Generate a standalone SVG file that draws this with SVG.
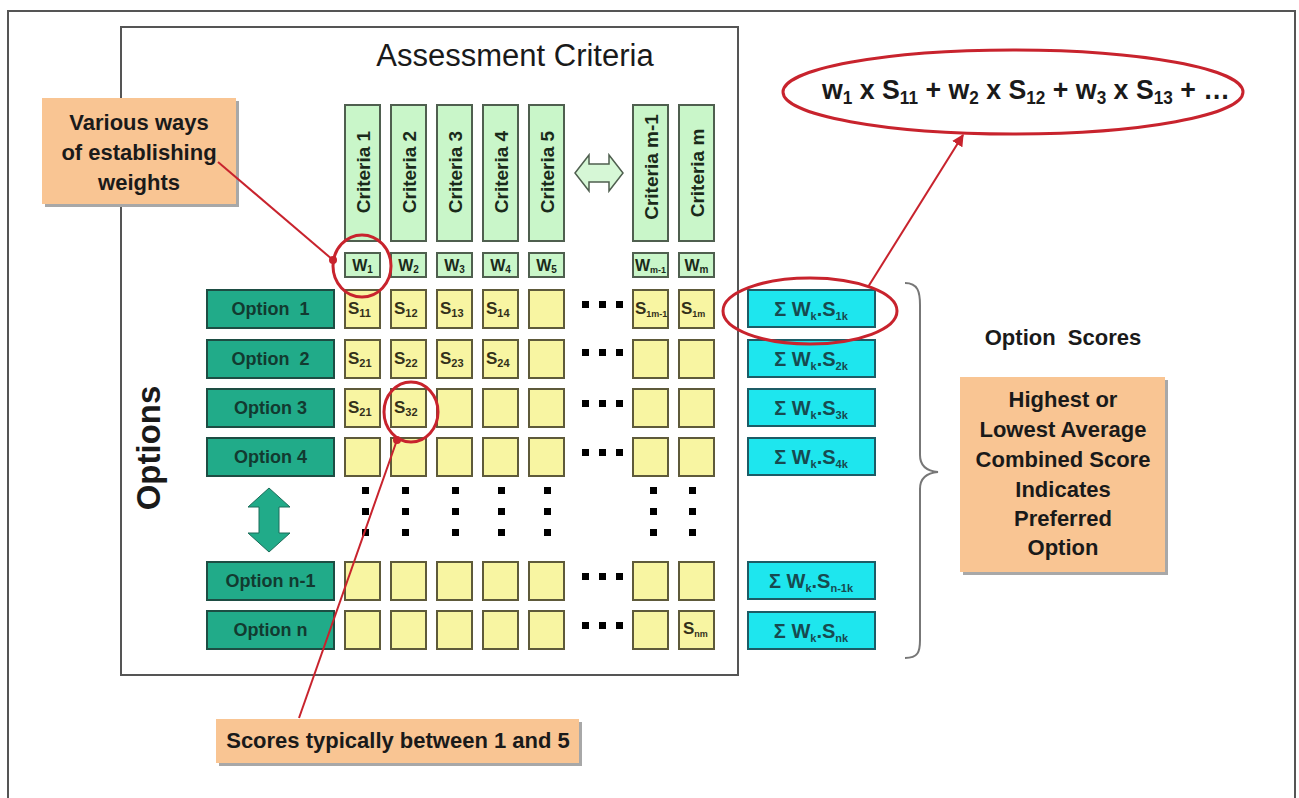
<svg xmlns="http://www.w3.org/2000/svg" width="1299" height="798" viewBox="0 0 1299 798">
<defs>
<style>
.frame{fill:none;stroke:#555;stroke-width:2}
.crit{fill:#c9f6c9;stroke:#4f5f4f;stroke-width:2}
.wt{fill:#c9f6c9;stroke:#4f5f4f;stroke-width:2}
.opt{fill:#21ab89;stroke:#1d4d43;stroke-width:2}
.cell{fill:#f8f5a2;stroke:#5e5a3a;stroke-width:2}
.sum{fill:#1ee6ee;stroke:#1c5c66;stroke-width:2}
.call{fill:#f9c593}
.shadow{fill:#a8a8a8}
.red{fill:none;stroke:#c8232d;stroke-width:3}
.redline{fill:none;stroke:#c8232d;stroke-width:2}
.dot{fill:#000}
.t{font-family:"Liberation Sans",Arial,sans-serif;font-weight:bold;fill:#1a1a1a}
.tc{font-family:"Liberation Sans",Arial,sans-serif;font-weight:bold;font-size:19px;fill:#1a2a1a;text-anchor:middle}
.tw{font-family:"Liberation Sans",Arial,sans-serif;font-weight:bold;font-size:16px;fill:#1a2a1a;text-anchor:middle}
.ts{font-family:"Liberation Sans",Arial,sans-serif;font-weight:bold;font-size:17px;fill:#33301a}
.to{font-family:"Liberation Sans",Arial,sans-serif;font-weight:bold;font-size:18px;fill:#123a30;text-anchor:middle}
.tsum{font-family:"Liberation Sans",Arial,sans-serif;font-weight:bold;font-size:20px;fill:#174a50;text-anchor:middle}
.tcall{font-family:"Liberation Sans",Arial,sans-serif;font-weight:bold;font-size:22px;fill:#1a1a1a;text-anchor:middle}
</style>
<marker id="endDot" viewBox="0 0 10 10" refX="5" refY="5" markerWidth="4" markerHeight="4" markerUnits="strokeWidth"><circle cx="5" cy="5" r="5" fill="#c8232d"/></marker>
<marker id="arrow" viewBox="0 0 10 10" refX="9" refY="5" markerWidth="6" markerHeight="6" markerUnits="strokeWidth" orient="auto"><path d="M0,0 L10,5 L0,10 Z" fill="#c8232d"/></marker>
</defs>

<rect class="frame" x="8" y="11" width="1287" height="800"/>
<rect id="main-frame" class="frame" x="121" y="27" width="617" height="648"/>

<text id="title" x="515" y="66" font-family="Liberation Sans, Arial, sans-serif" font-size="31" fill="#1a1a1a" text-anchor="middle">Assessment Criteria</text>

<text id="options-label" transform="translate(160,448) rotate(-90)" class="t" font-size="33" text-anchor="middle">Options</text>

<!-- criteria columns -->
<g id="criteria-1"><rect class="crit" x="345" y="105" width="35" height="136"/><text class="tc" transform="translate(362.5,172) rotate(-90)" y="7">Criteria 1</text></g>
<g id="criteria-2"><rect class="crit" x="391" y="105" width="35" height="136"/><text class="tc" transform="translate(408.5,172) rotate(-90)" y="7">Criteria 2</text></g>
<g id="criteria-3"><rect class="crit" x="437" y="105" width="35" height="136"/><text class="tc" transform="translate(454.5,172) rotate(-90)" y="7">Criteria 3</text></g>
<g id="criteria-4"><rect class="crit" x="483" y="105" width="35" height="136"/><text class="tc" transform="translate(500.5,172) rotate(-90)" y="7">Criteria 4</text></g>
<g id="criteria-5"><rect class="crit" x="529" y="105" width="35" height="136"/><text class="tc" transform="translate(546.5,172) rotate(-90)" y="7">Criteria 5</text></g>
<g id="criteria-m1"><rect class="crit" x="633" y="105" width="35" height="136"/><text class="tc" transform="translate(650.5,167) rotate(-90)" y="7">Criteria m-1</text></g>
<g id="criteria-m"><rect class="crit" x="679" y="105" width="35" height="136"/><text class="tc" transform="translate(696.5,173) rotate(-90)" y="7">Criteria m</text></g>

<g id="criteria-arrow"><path d="M575,173 L589,155 L589,164 L609,164 L609,155 L623,173 L609,191 L609,182 L589,182 L589,191 Z" fill="#d6f7d6" stroke="#4f5f4f" stroke-width="1.5"/></g>

<!-- weights -->
<g id="weights">
<rect class="wt" x="345" y="253" width="35" height="24"/><text class="tw" x="362.5" y="271">W<tspan font-size="10" dy="2">1</tspan></text>
<rect class="wt" x="391" y="253" width="35" height="24"/><text class="tw" x="408.5" y="271">W<tspan font-size="10" dy="2">2</tspan></text>
<rect class="wt" x="437" y="253" width="35" height="24"/><text class="tw" x="454.5" y="271">W<tspan font-size="10" dy="2">3</tspan></text>
<rect class="wt" x="483" y="253" width="35" height="24"/><text class="tw" x="500.5" y="271">W<tspan font-size="10" dy="2">4</tspan></text>
<rect class="wt" x="529" y="253" width="35" height="24"/><text class="tw" x="546.5" y="271">W<tspan font-size="10" dy="2">5</tspan></text>
<rect class="wt" x="633" y="253" width="35" height="24"/><text class="tw" x="650.5" y="271" font-size="15">W<tspan font-size="9" dy="2">m-1</tspan></text>
<rect class="wt" x="679" y="253" width="35" height="24"/><text class="tw" x="696.5" y="271">W<tspan font-size="10" dy="2">m</tspan></text>
</g>

<!-- options -->
<g id="option-1"><rect class="opt" x="207" y="290" width="127" height="38"/><text class="to" x="270.5" y="315" xml:space="preserve">Option  1</text></g>
<g id="option-2"><rect class="opt" x="207" y="340" width="127" height="38"/><text class="to" x="270.5" y="365" xml:space="preserve">Option  2</text></g>
<g id="option-3"><rect class="opt" x="207" y="389" width="127" height="38"/><text class="to" x="270.5" y="414">Option 3</text></g>
<g id="option-4"><rect class="opt" x="207" y="438" width="127" height="38"/><text class="to" x="270.5" y="463">Option 4</text></g>
<g id="option-n1"><rect class="opt" x="207" y="562" width="127" height="38"/><text class="to" x="270.5" y="587">Option n-1</text></g>
<g id="option-n"><rect class="opt" x="207" y="611" width="127" height="38"/><text class="to" x="270.5" y="636">Option n</text></g>

<g id="options-arrow"><path d="M269,488 L290,507 L279,507 L279,533 L290,533 L269,552 L248,533 L259,533 L259,507 L248,507 Z" fill="#21ab89" stroke="#1d6d5a" stroke-width="1"/></g>

<!-- score cells -->
<g id="scores">
<rect class="cell" x="345" y="290" width="35" height="38"/><rect class="cell" x="391" y="290" width="35" height="38"/><rect class="cell" x="437" y="290" width="35" height="38"/><rect class="cell" x="483" y="290" width="35" height="38"/><rect class="cell" x="529" y="290" width="35" height="38"/><rect class="cell" x="633" y="290" width="35" height="38"/><rect class="cell" x="679" y="290" width="35" height="38"/>
<rect class="cell" x="345" y="340" width="35" height="38"/><rect class="cell" x="391" y="340" width="35" height="38"/><rect class="cell" x="437" y="340" width="35" height="38"/><rect class="cell" x="483" y="340" width="35" height="38"/><rect class="cell" x="529" y="340" width="35" height="38"/><rect class="cell" x="633" y="340" width="35" height="38"/><rect class="cell" x="679" y="340" width="35" height="38"/>
<rect class="cell" x="345" y="389" width="35" height="38"/><rect class="cell" x="391" y="389" width="35" height="38"/><rect class="cell" x="437" y="389" width="35" height="38"/><rect class="cell" x="483" y="389" width="35" height="38"/><rect class="cell" x="529" y="389" width="35" height="38"/><rect class="cell" x="633" y="389" width="35" height="38"/><rect class="cell" x="679" y="389" width="35" height="38"/>
<rect class="cell" x="345" y="438" width="35" height="38"/><rect class="cell" x="391" y="438" width="35" height="38"/><rect class="cell" x="437" y="438" width="35" height="38"/><rect class="cell" x="483" y="438" width="35" height="38"/><rect class="cell" x="529" y="438" width="35" height="38"/><rect class="cell" x="633" y="438" width="35" height="38"/><rect class="cell" x="679" y="438" width="35" height="38"/>
<rect class="cell" x="345" y="562" width="35" height="38"/><rect class="cell" x="391" y="562" width="35" height="38"/><rect class="cell" x="437" y="562" width="35" height="38"/><rect class="cell" x="483" y="562" width="35" height="38"/><rect class="cell" x="529" y="562" width="35" height="38"/><rect class="cell" x="633" y="562" width="35" height="38"/><rect class="cell" x="679" y="562" width="35" height="38"/>
<rect class="cell" x="345" y="611" width="35" height="38"/><rect class="cell" x="391" y="611" width="35" height="38"/><rect class="cell" x="437" y="611" width="35" height="38"/><rect class="cell" x="483" y="611" width="35" height="38"/><rect class="cell" x="529" y="611" width="35" height="38"/><rect class="cell" x="633" y="611" width="35" height="38"/><rect class="cell" x="679" y="611" width="35" height="38"/>

<text class="ts" x="348" y="314">S<tspan font-size="11" dy="3">11</tspan></text>
<text class="ts" x="394" y="314">S<tspan font-size="11" dy="3">12</tspan></text>
<text class="ts" x="440" y="314">S<tspan font-size="11" dy="3">13</tspan></text>
<text class="ts" x="486" y="314">S<tspan font-size="11" dy="3">14</tspan></text>
<text class="ts" x="635" y="314" font-size="15">S<tspan font-size="9" dy="3">1m-1</tspan></text>
<text class="ts" x="681" y="314" font-size="15">S<tspan font-size="9" dy="3">1m</tspan></text>
<text class="ts" x="348" y="364">S<tspan font-size="11" dy="3">21</tspan></text>
<text class="ts" x="394" y="364">S<tspan font-size="11" dy="3">22</tspan></text>
<text class="ts" x="440" y="364">S<tspan font-size="11" dy="3">23</tspan></text>
<text class="ts" x="486" y="364">S<tspan font-size="11" dy="3">24</tspan></text>
<text class="ts" x="348" y="413">S<tspan font-size="11" dy="3">21</tspan></text>
<text class="ts" x="394" y="413">S<tspan font-size="11" dy="3">32</tspan></text>
<text class="ts" x="683" y="634" font-size="14">S<tspan font-size="9" dy="3">nm</tspan></text>
</g>

<!-- ellipsis dots -->
<g id="dots" class="dot">
<rect x="582" y="301" width="7" height="7"/><rect x="599" y="301" width="7" height="7"/><rect x="616" y="301" width="7" height="7"/>
<rect x="582" y="349" width="7" height="7"/><rect x="599" y="349" width="7" height="7"/><rect x="616" y="349" width="7" height="7"/>
<rect x="582" y="400" width="7" height="7"/><rect x="599" y="400" width="7" height="7"/><rect x="616" y="400" width="7" height="7"/>
<rect x="582" y="449" width="7" height="7"/><rect x="599" y="449" width="7" height="7"/><rect x="616" y="449" width="7" height="7"/>
<rect x="582" y="573" width="7" height="7"/><rect x="599" y="573" width="7" height="7"/><rect x="616" y="573" width="7" height="7"/>
<rect x="582" y="622" width="7" height="7"/><rect x="599" y="622" width="7" height="7"/><rect x="616" y="622" width="7" height="7"/>
<rect x="362" y="487" width="7" height="7"/><rect x="362" y="508" width="7" height="7"/><rect x="362" y="529" width="7" height="7"/>
<rect x="402" y="487" width="7" height="7"/><rect x="402" y="508" width="7" height="7"/><rect x="402" y="529" width="7" height="7"/>
<rect x="452" y="487" width="7" height="7"/><rect x="452" y="508" width="7" height="7"/><rect x="452" y="529" width="7" height="7"/>
<rect x="498" y="487" width="7" height="7"/><rect x="498" y="508" width="7" height="7"/><rect x="498" y="529" width="7" height="7"/>
<rect x="544" y="487" width="7" height="7"/><rect x="544" y="508" width="7" height="7"/><rect x="544" y="529" width="7" height="7"/>
<rect x="650" y="487" width="7" height="7"/><rect x="650" y="508" width="7" height="7"/><rect x="650" y="529" width="7" height="7"/>
<rect x="689" y="487" width="7" height="7"/><rect x="689" y="508" width="7" height="7"/><rect x="689" y="529" width="7" height="7"/>
</g>

<!-- sums -->
<g id="sum-1"><rect class="sum" x="748" y="290" width="127" height="37"/><text class="tsum" x="811" y="316">Σ W<tspan font-size="11" dy="4">k</tspan><tspan dy="-4">.S</tspan><tspan font-size="11" dy="4">1k</tspan></text></g>
<g id="sum-2"><rect class="sum" x="748" y="340" width="127" height="37"/><text class="tsum" x="811" y="366">Σ W<tspan font-size="11" dy="4">k</tspan><tspan dy="-4">.S</tspan><tspan font-size="11" dy="4">2k</tspan></text></g>
<g id="sum-3"><rect class="sum" x="748" y="389" width="127" height="37"/><text class="tsum" x="811" y="415">Σ W<tspan font-size="11" dy="4">k</tspan><tspan dy="-4">.S</tspan><tspan font-size="11" dy="4">3k</tspan></text></g>
<g id="sum-4"><rect class="sum" x="748" y="438" width="127" height="37"/><text class="tsum" x="811" y="464">Σ W<tspan font-size="11" dy="4">k</tspan><tspan dy="-4">.S</tspan><tspan font-size="11" dy="4">4k</tspan></text></g>
<g id="sum-n1"><rect class="sum" x="748" y="562" width="127" height="37"/><text class="tsum" x="811" y="588">Σ W<tspan font-size="11" dy="4">k</tspan><tspan dy="-4">.S</tspan><tspan font-size="11" dy="4">n-1k</tspan></text></g>
<g id="sum-n"><rect class="sum" x="748" y="612" width="127" height="37"/><text class="tsum" x="811" y="638">Σ W<tspan font-size="11" dy="4">k</tspan><tspan dy="-4">.S</tspan><tspan font-size="11" dy="4">nk</tspan></text></g>

<g id="brace"><path d="M905,283 C918,283 920,292 920,305 L920,455 C920,466 926,471 938,472 C926,473 920,478 920,489 L920,640 C920,652 918,658 905,658" fill="none" stroke="#777" stroke-width="2"/></g>

<g id="option-scores-label"><text class="tcall" x="1063" y="345" xml:space="preserve">Option  Scores</text></g>

<g id="callout-preferred">
<rect class="shadow" x="963" y="380" width="205" height="195"/>
<rect class="call" x="960" y="377" width="205" height="195"/>
<text class="tcall"><tspan x="1063" y="407">Highest or</tspan><tspan x="1063" y="437">Lowest Average</tspan><tspan x="1063" y="467">Combined Score</tspan><tspan x="1063" y="497">Indicates</tspan><tspan x="1063" y="526">Preferred</tspan><tspan x="1063" y="555">Option</tspan></text>
</g>

<g id="callout-weights">
<rect class="shadow" x="45" y="101" width="194" height="106"/>
<rect class="call" x="42" y="98" width="194" height="106"/>
<text class="tcall"><tspan x="139" y="130">Various ways</tspan><tspan x="139" y="160">of establishing</tspan><tspan x="139" y="190">weights</tspan></text>
</g>

<g id="callout-scores">
<rect class="shadow" x="219" y="722" width="363" height="44"/>
<rect class="call" x="216" y="719" width="363" height="44"/>
<text class="tcall" x="398" y="748">Scores typically between 1 and 5</text>
</g>

<g id="formula">
<ellipse class="red" cx="1013" cy="92" rx="230" ry="42"/>
<text class="t" x="822" y="99" font-size="28" textLength="408" lengthAdjust="spacingAndGlyphs">w<tspan font-size="18" dy="5">1</tspan><tspan dy="-5"> x S</tspan><tspan font-size="18" dy="5">11</tspan><tspan dy="-5"> + w</tspan><tspan font-size="18" dy="5">2</tspan><tspan dy="-5"> x S</tspan><tspan font-size="18" dy="5">12</tspan><tspan dy="-5"> + w</tspan><tspan font-size="18" dy="5">3</tspan><tspan dy="-5"> x S</tspan><tspan font-size="18" dy="5">13</tspan><tspan dy="-5"> + …</tspan></text>
</g>

<g id="connectors">
<ellipse class="red" cx="362" cy="266" rx="29" ry="31"/>
<ellipse class="red" cx="411" cy="412" rx="27" ry="30"/>
<ellipse class="red" cx="810" cy="311" rx="87" ry="33"/>
<line class="redline" x1="218" y1="162" x2="333" y2="260" marker-end="url(#endDot)"/>
<line class="redline" x1="299" y1="718" x2="397" y2="440" marker-end="url(#endDot)"/>
<line class="redline" x1="868" y1="287" x2="963" y2="135" marker-end="url(#arrow)"/>
</g>
</svg>
